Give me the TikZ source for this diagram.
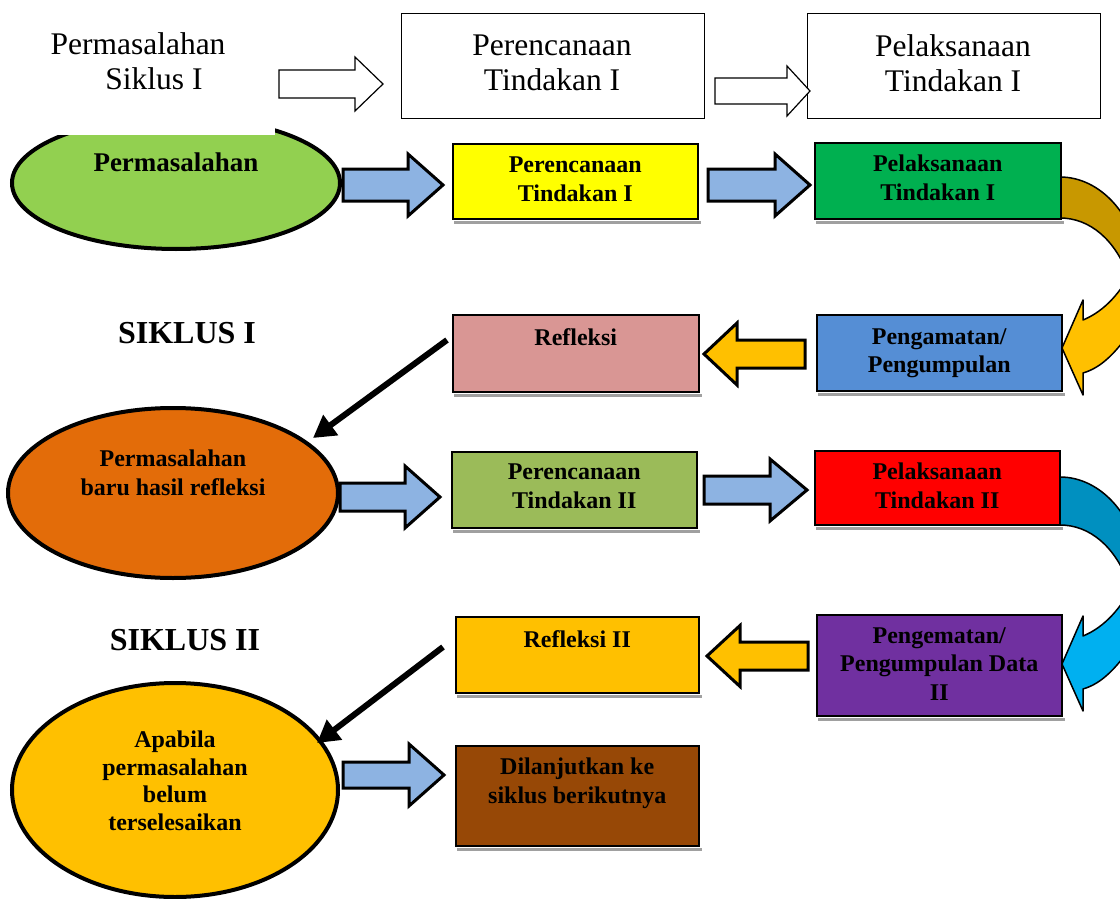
\documentclass[tikz,border=0pt]{standalone}
\usepackage{fontspec}
\setmainfont{Liberation Serif}
\usetikzlibrary{shapes.geometric,arrows.meta}
\definecolor{ellgreen}{HTML}{92D050}
\definecolor{yel}{HTML}{FFFF00}
\definecolor{grn}{HTML}{00B050}
\definecolor{darkgold}{HTML}{C89800}
\definecolor{gold}{HTML}{FFC000}
\definecolor{pblue}{HTML}{558ED5}
\definecolor{refl}{HTML}{D99694}
\definecolor{orng}{HTML}{E36C09}
\definecolor{olive}{HTML}{9BBB59}
\definecolor{redc}{HTML}{FF0000}
\definecolor{tealc}{HTML}{0090C0}
\definecolor{cyanc}{HTML}{00B0F0}
\definecolor{purp}{HTML}{7030A0}
\definecolor{brownc}{HTML}{974806}
\definecolor{arrblue}{HTML}{8DB3E2}
\definecolor{shadowc}{HTML}{A0A0A0}
\newcommand\blkarrow[7]{%
  \draw[#7] (#1,#4-#5) -- (#2,#4-#5) -- (#2,#4-#6) -- (#3,#4) -- (#2,#4+#6) -- (#2,#4+#5) -- (#1,#4+#5) -- cycle;}
\newcommand\boxshadow[1]{%
  \fill[shadowc] ([xshift=2pt,yshift=-1pt]#1.south west) rectangle ([xshift=2pt,yshift=-4.5pt]#1.south east);}
\begin{document}
\begin{tikzpicture}[x=1pt,y=-1pt,
  cbox/.style={draw=black, line width=1.5pt, rectangle, inner sep=0pt, anchor=north west},
  plainbox/.style={draw=black, line width=1.2pt, rectangle, inner sep=0pt, anchor=north west},
  btxt/.style={font=\bfseries\fontsize{24}{28.5}\selectfont, align=center, inner sep=0pt},
  rtxt/.style={font=\fontsize{31.5}{35}\selectfont, align=center, inner sep=0pt},
  ell/.style={ellipse, draw=black, line width=4pt, inner sep=0pt},
  barr/.style={fill=arrblue, draw=black, line width=3pt, line join=miter},
  yarr/.style={fill=gold, draw=black, line width=3pt, line join=miter},
  harr/.style={fill=white, draw=black, line width=1.2pt, line join=miter},
  curv/.style={draw=black, line width=1.5pt, line join=round},
  blk/.style={draw=black, line width=6pt, -{Triangle[length=22pt,width=24pt]}}
]
\useasboundingbox (0,0) rectangle (1120,899);
\begin{scope}
\clip (0,0) rectangle (1120,899);

% ---- top row ----
\node[rtxt] (p0) at (138,61) {Permasalahan\\\hspace*{32pt}Siklus I};
\node[plainbox, minimum width=303pt, minimum height=105pt] (tb1) at (401,13) {};
\node[rtxt] (tt1) at (552,63) {Perencanaan\\Tindakan I};
\node[plainbox, minimum width=293pt, minimum height=105pt] (tb2) at (807,13) {};
\node[rtxt] (tt2) at (953,63) {Pelaksanaan\\Tindakan I};
\blkarrow{279}{355}{383}{84}{14}{27}{harr}
\blkarrow{715}{787}{810}{91}{13}{25}{harr}

% ---- curved arrow 1 ----
\draw[curv, fill=darkgold] (1060,177) .. controls (1100,177) and (1135,215) .. (1140,265)
  -- (1128,275) .. controls (1115,240) and (1090,218) .. (1060,218) -- cycle;
\draw[curv, fill=gold] (1132,270) .. controls (1118,298) and (1100,313) .. (1083,320)
  -- (1083,300) -- (1062,348) -- (1083,395) -- (1083,373)
  .. controls (1100,368) and (1115,355) .. (1135,325) -- cycle;
% ---- curved arrow 2 ----
\draw[curv, fill=tealc] (1060,477) .. controls (1100,477) and (1135,515) .. (1140,565)
  -- (1128,582) .. controls (1115,547) and (1090,525) .. (1060,525) -- cycle;
\begin{scope}[shift={(0,316)}]
\draw[curv, fill=cyanc] (1132,270) .. controls (1118,298) and (1100,313) .. (1083,320)
  -- (1083,300) -- (1062,348) -- (1083,395) -- (1083,373)
  .. controls (1100,368) and (1115,355) .. (1135,325) -- cycle;
\end{scope}

% ---- row 2 ----
\node[ell, fill=ellgreen, minimum width=328pt, minimum height=132pt] (e1) at (176,183) {};
\fill[white] (0,100) rectangle (275,135);
\node[font=\bfseries\fontsize{27}{31}\selectfont, inner sep=0pt] (e1t) at (176,162) {Permasalahan};

\node[cbox, fill=yel, minimum width=245pt, minimum height=75pt] (b1) at (452,143) {};
\boxshadow{b1}
\node[btxt, anchor=north] (b1t) at ([yshift=-14pt]b1.north) {Perencanaan\\Tindakan I};
\node[cbox, fill=grn, minimum width=246pt, minimum height=76pt] (b2) at (814,142) {};
\boxshadow{b2}
\node[btxt, anchor=north] (b2t) at ([yshift=-13pt]b2.north) {Pelaksanaan\\Tindakan I};
\blkarrow{343}{408}{443}{185}{16}{31}{barr}
\blkarrow{708}{775}{810}{185}{16}{31}{barr}

% ---- row 3 ----
\node[font=\bfseries\fontsize{32}{36}\selectfont, inner sep=0pt] (s1) at (187,333) {SIKLUS I};
\node[cbox, fill=refl, minimum width=246pt, minimum height=77pt] (b3) at (452,314) {};
\boxshadow{b3}
\node[btxt, anchor=north] (b3t) at ([yshift=-14pt]b3.north) {Refleksi};
\node[cbox, fill=pblue, minimum width=245pt, minimum height=76pt] (b4) at (816,314) {};
\boxshadow{b4}
\node[btxt, anchor=north] (b4t) at ([yshift=-14pt]b4.north) {Pengamatan/\\Pengumpulan};
\blkarrow{805}{737}{704}{354}{14}{31}{yarr}

% ---- row 4 ----
\node[ell, fill=orng, minimum width=330pt, minimum height=170pt] (e2) at (173,493) {};
\node[btxt] (e2t) at (173,473) {Permasalahan\\baru hasil refleksi};
\node[cbox, fill=olive, minimum width=245pt, minimum height=76pt] (b5) at (451,451) {};
\boxshadow{b5}
\node[btxt, anchor=north] (b5t) at ([yshift=-13pt]b5.north) {Perencanaan\\Tindakan II};
\node[cbox, fill=redc, minimum width=245pt, minimum height=74pt] (b6) at (814,450) {};
\boxshadow{b6}
\node[btxt, anchor=north] (b6t) at ([yshift=-13pt]b6.north) {Pelaksanaan\\Tindakan II};
\blkarrow{340}{405}{440}{497}{14}{31}{barr}
\blkarrow{704}{770}{807}{490}{14}{31}{barr}

% ---- row 5 ----
\node[font=\bfseries\fontsize{32}{36}\selectfont, inner sep=0pt] (s2) at (185,640) {SIKLUS II};
\node[cbox, fill=gold, minimum width=243pt, minimum height=76pt] (b7) at (455,616) {};
\boxshadow{b7}
\node[btxt, anchor=north] (b7t) at ([yshift=-14pt]b7.north) {Refleksi II};
\node[cbox, fill=purp, minimum width=245pt, minimum height=101pt] (b8) at (816,614) {};
\boxshadow{b8}
\node[btxt, anchor=north] (b8t) at ([yshift=-13pt]b8.north) {Pengematan/\\Pengumpulan Data\\II};
\blkarrow{808}{740}{707}{656}{14}{30.5}{yarr}

% ---- row 6 ----
\node[ell, fill=gold, minimum width=326pt, minimum height=214pt] (e3) at (175,790) {};
\node[btxt, font=\bfseries\fontsize{24}{27.5}\selectfont] (e3t) at (175,781) {Apabila\\permasalahan\\belum\\terselesaikan};
\node[cbox, fill=brownc, minimum width=243pt, minimum height=100pt] (b9) at (455,745) {};
\boxshadow{b9}
\node[btxt, anchor=north] (b9t) at ([yshift=-13pt]b9.north) {Dilanjutkan ke\\siklus berikutnya};
\blkarrow{343}{409}{444}{775}{13}{31}{barr}

% ---- black arrows ----
\coordinate (a1s) at (447,340);
\coordinate (a1e) at (313,438);
\draw[blk] (a1s) -- (a1e);
\coordinate (a2s) at (443,647);
\coordinate (a2e) at (317,743);
\draw[blk] (a2s) -- (a2e);
\end{scope}
\end{tikzpicture}
\end{document}
